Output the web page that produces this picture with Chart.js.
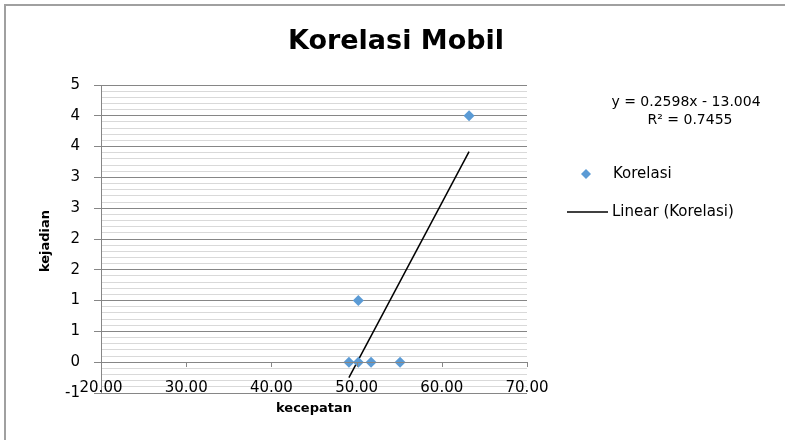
<!DOCTYPE html>
<html>
<head>
<meta charset="utf-8">
<script src="https://cdn.jsdelivr.net/npm/chart.js@4"></script>
<style>
  body { margin: 0; background: #fff; }
  #wrap { position: relative; width: 785px; height: 440px; }
</style>
</head>
<body>
<div id="wrap"><canvas id="chart" width="785" height="440"></canvas></div>
<script>
// data
const speeds = [49.1, 50.2, 51.7, 55.1, 50.2, 63.2];
const events = [0, 0, 0, 0, 1, 4];
const trendX = [49.1, 63.2];
const trendY = [-0.25, 3.42];
const xTickValues = [20, 30, 40, 50, 60, 70];
const equationLines = ["y = 0.2598x - 13.004", "R² = 0.7455"];

const FONT = "'DejaVu Sans', sans-serif";
const MAJOR = "#868686";
const MINOR = "#d9d9d9";
const BLUE = "#5b9bd5";

// Excel shows 0.5 steps with no decimals, rounding half away from zero
function excelRound(v) {
  return String(Math.sign(v) * Math.round(Math.abs(v)));
}
function isMajor(v) {
  return Math.round(v * 10) % 5 === 0;
}

const extras = {
  id: "extras",
  afterDatasetsDraw(chart) {
    const ctx = chart.ctx;
    const xs = chart.scales.x;
    const ys = chart.scales.y;
    const area = chart.chartArea;
    const y0 = Math.round(ys.getPixelForValue(0));

    ctx.save();
    // horizontal axis crossing at y = 0
    ctx.strokeStyle = MAJOR;
    ctx.lineWidth = 1;
    ctx.beginPath();
    ctx.moveTo(area.left, y0 + 0.5);
    ctx.lineTo(area.right, y0 + 0.5);
    xTickValues.forEach((v) => {
      const px = Math.round(xs.getPixelForValue(v)) + 0.5;
      ctx.moveTo(px, y0);
      ctx.lineTo(px, y0 + 5);
    });
    ctx.stroke();
    ctx.restore();
  },
  afterDraw(chart) {
    const ctx = chart.ctx;
    const xs = chart.scales.x;
    ctx.save();
    // outer border
    ctx.strokeStyle = "#a0a0a0";
    ctx.lineWidth = 2;
    ctx.strokeRect(5, 5, 800, 460);

    ctx.fillStyle = "#000";
    ctx.textAlign = "center";
    ctx.textBaseline = "middle";

    // x tick labels sit just under the axis, over the lower gridlines
    ctx.font = "15px " + FONT;
    xTickValues.forEach((v) => {
      ctx.fillText(v.toFixed(2), xs.getPixelForValue(v), 388);
    });

    ctx.font = "bold 27px " + FONT;
    ctx.fillText("Korelasi Mobil", 396, 42);

    ctx.font = "bold 13px " + FONT;
    ctx.fillText("kecepatan", 314, 409);
    ctx.save();
    ctx.translate(46, 241);
    ctx.rotate(-Math.PI / 2);
    ctx.fillText("kejadian", 0, 0);
    ctx.restore();

    ctx.font = "14px " + FONT;
    ctx.fillText(equationLines[0], 686, 102);
    ctx.fillText(equationLines[1], 690, 120);

    // legend
    ctx.textAlign = "left";
    ctx.font = "15px " + FONT;
    ctx.fillStyle = BLUE;
    ctx.beginPath();
    ctx.moveTo(586, 169);
    ctx.lineTo(591, 174);
    ctx.lineTo(586, 179);
    ctx.lineTo(581, 174);
    ctx.closePath();
    ctx.fill();
    ctx.fillStyle = "#000";
    ctx.fillText("Korelasi", 613, 174);

    ctx.strokeStyle = "#000";
    ctx.lineWidth = 1.5;
    ctx.beginPath();
    ctx.moveTo(567, 212);
    ctx.lineTo(608, 212);
    ctx.stroke();
    ctx.fillText("Linear (Korelasi)", 612, 212);
    ctx.restore();
  },
};

new Chart(document.getElementById("chart"), {
  type: "scatter",
  data: {
    datasets: [
      {
        label: "Korelasi",
        data: speeds.map((x, i) => ({ x: x, y: events[i] })),
        pointStyle: "rectRot",
        pointRadius: 5.5,
        backgroundColor: BLUE,
        borderColor: BLUE,
        borderWidth: 0,
      },
      {
        label: "Linear (Korelasi)",
        type: "line",
        data: trendX.map((x, i) => ({ x: x, y: trendY[i] })),
        borderColor: "#000",
        borderWidth: 1.5,
        pointRadius: 0,
        fill: false,
      },
    ],
  },
  options: {
    responsive: false,
    devicePixelRatio: 1,
    animation: false,
    layout: { padding: { left: 0, top: 85, right: 258, bottom: 0 } },
    plugins: { legend: { display: false }, tooltip: { enabled: false } },
    scales: {
      x: {
        type: "linear",
        min: 20,
        max: 70,
        afterBuildTicks: (scale) => {
          scale.ticks = xTickValues.map((v) => ({ value: v }));
        },
        afterFit: (scale) => {
          scale.height = 47;
        },
        grid: { display: false, drawTicks: false },
        border: { display: false },
        ticks: { display: false },
      },
      y: {
        min: -0.5,
        max: 4.5,
        afterFit: (scale) => {
          scale.width = 101;
        },
        grid: {
          color: (c) => (isMajor(c.tick.value) ? MAJOR : MINOR),
          tickColor: (c) => (isMajor(c.tick.value) ? MAJOR : "rgba(0,0,0,0)"),
          tickLength: 7,
        },
        border: { display: true, color: MAJOR },
        ticks: {
          stepSize: 0.1,
          autoSkip: false,
          padding: 14,
          color: "#000",
          font: { family: FONT, size: 15 },
          callback: (v) => (isMajor(v) ? excelRound(v) : ""),
        },
      },
    },
  },
  plugins: [extras],
});
</script>
</body>
</html>
